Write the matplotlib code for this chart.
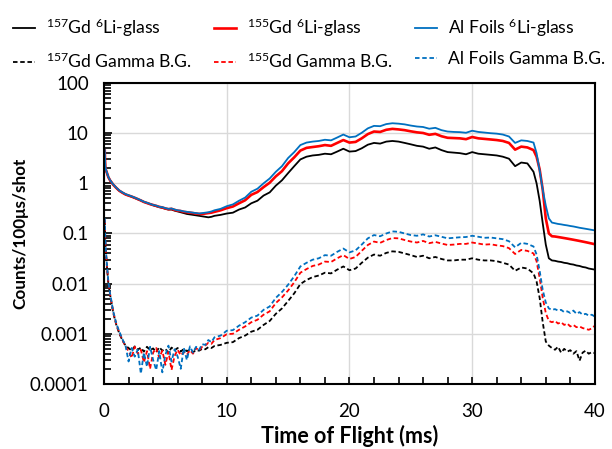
import numpy as np
import matplotlib
matplotlib.use("Agg")
import matplotlib.pyplot as plt
from matplotlib.ticker import MultipleLocator, LogLocator, FuncFormatter, NullFormatter

plt.rcParams["font.family"] = ["Lato", "DejaVu Sans"]
plt.rcParams["mathtext.default"] = "regular"

# time of flight (ms)
tof = np.array([
    0.06, 0.1, 0.15, 0.25, 0.35, 0.5, 0.75, 1.0, 1.25, 1.5, 1.75,
    2.0, 2.25, 2.5, 2.75, 3.0, 3.25, 3.5, 3.75, 4.0, 4.25, 4.5, 4.75, 5.0, 5.25, 5.5,
    5.75, 6.0, 6.25, 6.5, 6.75, 7.0, 7.25, 7.5, 7.75, 8.0, 8.25, 8.5, 8.75, 9.0,
    9.5, 10.0, 10.5, 11.0, 11.5, 12.0, 12.5, 13.0, 13.5, 14.0, 14.5, 15.0, 15.5, 16.0,
    16.5, 17.0, 17.5, 18.0, 18.5, 19.0, 19.5, 20.0, 20.5, 21.0, 21.5, 22.0, 22.5, 23.0,
    23.5, 24.0, 24.5, 25.0, 25.5, 26.0, 26.5, 27.0, 27.5, 28.0, 28.5, 29.0, 29.5, 30.0,
    30.5, 31.0, 31.5, 32.0, 32.5, 33.0, 33.5, 34.0, 34.5, 35.0,
    35.25, 35.5, 35.75, 36.0, 36.25, 36.5,
    36.75, 37.0, 37.25, 37.5, 37.75, 38.0, 38.25, 38.5, 38.75, 39.0, 39.25, 39.5, 39.75, 40.0,
])

# 6Li-glass counts
gd157_li = np.array([
    4.4, 2.1, 1.85, 1.57, 1.32, 1.13, 0.94, 0.81, 0.71, 0.65, 0.6,
    0.57, 0.54, 0.51, 0.48, 0.455, 0.425, 0.405, 0.385, 0.365, 0.35, 0.335, 0.325, 0.31, 0.3, 0.3,
    0.285, 0.275, 0.265, 0.255, 0.245, 0.24, 0.235, 0.23, 0.225, 0.22, 0.215, 0.21, 0.215, 0.225,
    0.235, 0.25, 0.26, 0.3, 0.33, 0.4, 0.45, 0.57, 0.66, 0.9, 1.15, 1.6, 2.2, 3.0,
    3.4, 3.6, 3.7, 3.9, 3.8, 4.3, 4.9, 4.3, 4.4, 5.0, 5.9, 6.4, 6.2, 6.8,
    7.0, 6.8, 6.4, 6.0, 5.6, 5.4, 4.9, 5.2, 4.6, 4.2, 4.1, 4.0, 3.8, 4.2,
    3.9, 3.8, 3.7, 3.6, 3.4, 3.1, 2.2, 2.6, 2.5, 1.7,
    1.0, 0.45, 0.16, 0.06, 0.032, 0.029,
    0.0285, 0.0275, 0.027, 0.026, 0.0255, 0.0245, 0.024, 0.023, 0.0225, 0.0215, 0.021, 0.02, 0.0195, 0.019,
])
gd155_li = np.array([
    4.5, 2.15, 1.85, 1.58, 1.33, 1.14, 0.94, 0.81, 0.71, 0.65, 0.6,
    0.57, 0.545, 0.515, 0.485, 0.455, 0.425, 0.405, 0.385, 0.37, 0.355, 0.34, 0.33, 0.315, 0.305, 0.31,
    0.295, 0.285, 0.28, 0.27, 0.265, 0.26, 0.255, 0.25, 0.245, 0.245, 0.25, 0.255, 0.26, 0.27,
    0.29, 0.32, 0.345, 0.40, 0.46, 0.59, 0.67, 0.84, 1.03, 1.38, 1.75, 2.5, 3.3, 4.5,
    5.1, 5.3, 5.5, 5.8, 5.6, 6.4, 7.3, 6.5, 6.7, 7.9, 9.6, 10.8, 10.6, 11.7,
    12.2, 11.9, 11.5, 10.9, 10.4, 10.1, 9.3, 9.7, 8.7, 8.1, 8.0, 7.9, 7.6, 8.4,
    7.9, 7.7, 7.5, 7.3, 7.0, 6.4, 4.7, 5.4, 5.2, 4.6,
    3.4, 1.9, 0.75, 0.2, 0.1, 0.088,
    0.087, 0.085, 0.083, 0.081, 0.079, 0.077, 0.075, 0.073, 0.071, 0.069, 0.067, 0.065, 0.063, 0.061,
])
al_li = np.array([
    4.6, 2.2, 1.9, 1.6, 1.35, 1.15, 0.95, 0.82, 0.72, 0.66, 0.61,
    0.58, 0.55, 0.52, 0.49, 0.46, 0.43, 0.41, 0.39, 0.37, 0.36, 0.34, 0.335, 0.32, 0.31, 0.315,
    0.30, 0.29, 0.285, 0.275, 0.27, 0.265, 0.26, 0.255, 0.25, 0.255, 0.26, 0.265, 0.275, 0.29,
    0.31, 0.35, 0.38, 0.45, 0.52, 0.68, 0.78, 1.0, 1.25, 1.7, 2.2, 3.2, 4.2, 5.8,
    6.5, 6.8, 7.0, 7.4, 7.2, 8.2, 9.4, 8.3, 8.6, 10.2, 12.5, 14.0, 13.8, 15.2,
    15.8, 15.5, 15.0, 14.2, 13.6, 13.3, 12.3, 12.8, 11.5, 10.8, 10.6, 10.5, 10.2, 11.2,
    10.6, 10.3, 10.0, 9.8, 9.4, 8.6, 6.4, 7.2, 7.0, 6.5,
    4.0, 1.8, 0.75, 0.36, 0.2, 0.165,
    0.16, 0.155, 0.152, 0.148, 0.145, 0.141, 0.138, 0.134, 0.13, 0.127, 0.124, 0.121, 0.118, 0.115,
])

# gamma background counts
gd157_gamma = np.array([
    0.18, 0.075, 0.042, 0.02, 0.01, 0.0058, 0.0026, 0.0015, 0.001, 0.00074, 0.00058,
    0.00052, 0.00046, 0.00056, 0.00048, 0.00053, 0.00044, 0.00055, 0.00047, 0.00051, 0.00043,
    0.00054, 0.00046, 0.0005, 0.00042, 0.00053, 0.00047, 0.00052, 0.00044, 0.0005, 0.00045,
    0.00048, 0.00043, 0.00047, 0.00046, 0.0005, 0.00049, 0.00054, 0.00052, 0.00057,
    0.0006, 0.00066, 0.00068, 0.00082, 0.00092, 0.0011, 0.0012, 0.0015, 0.0018, 0.0025, 0.0032,
    0.0045, 0.0064, 0.0098, 0.0118, 0.0135, 0.0145, 0.0165, 0.016, 0.019, 0.022, 0.0185, 0.02,
    0.026, 0.033, 0.038, 0.036, 0.041, 0.044, 0.043, 0.04, 0.037, 0.034, 0.036, 0.032, 0.034,
    0.031, 0.029, 0.029, 0.03, 0.03, 0.032, 0.03, 0.029, 0.029, 0.028, 0.026, 0.024, 0.018,
    0.021, 0.02, 0.016,
    0.011, 0.0052, 0.0017, 0.0007, 0.00058, 0.00052,
    0.00048, 0.00055, 0.00042, 0.0005, 0.00044, 0.00047, 0.0004, 0.00045, 0.00029, 0.00042,
    0.00046, 0.0004, 0.00043, 0.00041,
])
gd155_gamma = np.array([
    0.19, 0.08, 0.044, 0.021, 0.0105, 0.006, 0.0027, 0.00155, 0.00105, 0.00075, 0.00056,
    0.00045, 0.00033, 0.00055, 0.0004, 0.00048, 0.00027, 0.00045, 0.0002, 0.00042, 0.00052,
    0.00033, 0.00046, 0.00024, 0.00044, 0.00019, 0.00036, 0.00048, 0.00037, 0.00043, 0.00038,
    0.00047, 0.0004, 0.00052, 0.00046, 0.00055, 0.00058, 0.00066, 0.00063, 0.00075,
    0.00082, 0.00098, 0.001, 0.0012, 0.0014, 0.0017, 0.0019, 0.0024, 0.0028, 0.0041, 0.0053,
    0.0073, 0.0106, 0.0165, 0.0195, 0.0225, 0.024, 0.0275, 0.027, 0.032, 0.037, 0.031, 0.034,
    0.045, 0.059, 0.069, 0.065, 0.074, 0.081, 0.08, 0.074, 0.069, 0.066, 0.071, 0.064, 0.068,
    0.063, 0.059, 0.06, 0.062, 0.062, 0.066, 0.063, 0.06, 0.061, 0.058, 0.056, 0.051, 0.039,
    0.047, 0.045, 0.04,
    0.028, 0.013, 0.0052, 0.0026, 0.0018, 0.0017,
    0.0018, 0.0016, 0.0017, 0.0015, 0.0016, 0.0014, 0.0015, 0.00135, 0.0014, 0.0013,
    0.00125, 0.0012, 0.00128, 0.00145,
])
al_gamma = np.array([
    0.2, 0.085, 0.046, 0.022, 0.011, 0.0062, 0.0028, 0.0016, 0.0011, 0.00078, 0.00058,
    0.00028, 0.00052, 0.00035, 0.00048, 0.00016, 0.00042, 0.00022, 0.00055, 0.0003, 0.00019,
    0.00045, 0.00017, 0.00038, 0.00058, 0.00028, 0.00049, 0.00035, 0.0002, 0.00052, 0.0003,
    0.00056, 0.00042, 0.00055, 0.00048, 0.00062, 0.0006, 0.00075, 0.00068, 0.00085,
    0.00092, 0.00115, 0.00118, 0.00145, 0.0017, 0.0021, 0.0023, 0.003, 0.0035, 0.0052, 0.0068,
    0.0095, 0.014, 0.022, 0.026, 0.03, 0.032, 0.037, 0.036, 0.043, 0.05, 0.042, 0.046,
    0.06, 0.08, 0.093, 0.088, 0.1, 0.11, 0.108, 0.1, 0.093, 0.09, 0.096, 0.087, 0.092,
    0.086, 0.08, 0.082, 0.084, 0.085, 0.09, 0.086, 0.082, 0.083, 0.08, 0.077, 0.07, 0.053,
    0.065, 0.062, 0.055,
    0.038, 0.018, 0.0075, 0.0042, 0.0032, 0.003,
    0.0031, 0.0029, 0.003, 0.0027, 0.0028, 0.0026, 0.0029, 0.0025, 0.0027, 0.0024,
    0.0025, 0.0023, 0.0024, 0.0022,
])

labels = [
    r"$^{157}$Gd $^{6}$Li-glass", r"$^{157}$Gd Gamma B.G.",
    r"$^{155}$Gd $^{6}$Li-glass", r"$^{155}$Gd Gamma B.G.",
    r"Al Foils $^{6}$Li-glass", r"Al Foils Gamma B.G.",
]

fig = plt.figure(figsize=(6.12, 4.49), dpi=100)
ax = fig.add_axes([0.170, 0.145, 0.802, 0.670])

dash = (0, (2.5, 1.5))
h1, = ax.plot(tof, gd157_li, color="black", lw=1.3)
h2, = ax.plot(tof, gd157_gamma, color="black", lw=1.3, ls=dash)
h3, = ax.plot(tof, gd155_li, color="#FF0000", lw=1.9)
h4, = ax.plot(tof, gd155_gamma, color="#FF0000", lw=1.3, ls=dash)
h5, = ax.plot(tof, al_li, color="#0070C0", lw=1.3)
h6, = ax.plot(tof, al_gamma, color="#0070C0", lw=1.3, ls=dash)

ax.set_yscale("log")
ax.set_xlim(0, 40)
ax.set_ylim(1e-4, 100)
ax.xaxis.set_major_locator(MultipleLocator(10))
ax.xaxis.set_minor_locator(MultipleLocator(2))
ax.yaxis.set_major_locator(LogLocator(base=10, numticks=10))
ax.yaxis.set_minor_locator(LogLocator(base=10, subs=np.arange(2, 10), numticks=20))
ax.yaxis.set_major_formatter(FuncFormatter(lambda v, p: "{:g}".format(v)))
ax.yaxis.set_minor_formatter(NullFormatter())

ax.grid(True, which="major", color="#D9D9D9", lw=1.0)
ax.set_axisbelow(True)
ax.tick_params(which="both", direction="in", labelsize=13.5, width=1.2)
ax.tick_params(axis="x", which="both", length=5, pad=14)
ax.tick_params(axis="y", which="major", length=6, pad=11)
ax.tick_params(axis="y", which="minor", length=5)
for s in ax.spines.values():
    s.set_linewidth(1.5)
    s.set_color("black")

ax.set_xlabel("Time of Flight (ms)", fontsize=15.5, fontweight="bold", labelpad=3)
ax.set_ylabel("Counts/100\u03bcs/shot", fontsize=12.3, fontweight="bold", labelpad=1)

fig.legend([h1, h2, h3, h4, h5, h6], labels, ncol=3, loc="upper center",
           bbox_to_anchor=(0.505, 0.998), frameon=False, fontsize=12.6,
           handlelength=1.25, handletextpad=0.6, columnspacing=1.3, labelspacing=0.7)

fig.savefig("out.png", dpi=100)
